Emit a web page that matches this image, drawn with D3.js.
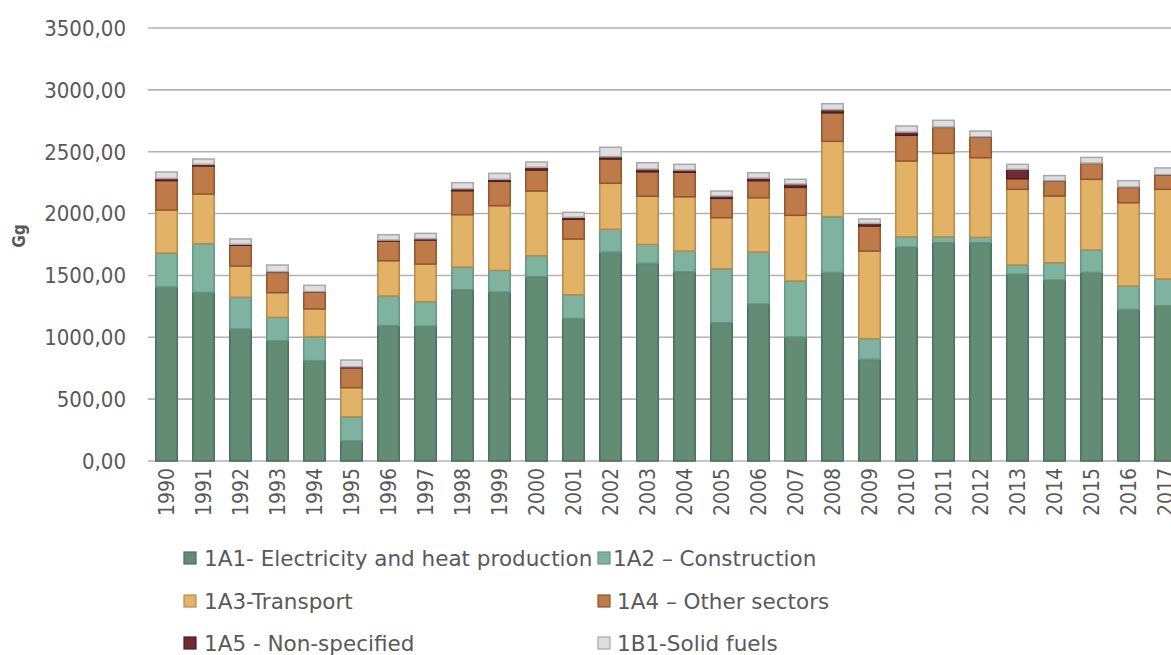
<!DOCTYPE html>
<html><head><meta charset="utf-8">
<script src="https://cdn.jsdelivr.net/npm/d3@7"></script>
<style>body{margin:0;background:#fff;} svg{display:block;font-family:"DejaVu Sans Condensed","DejaVu Sans",sans-serif;}</style>
</head><body>
<svg id="c" width="1171" height="655"></svg>
<script>
const years = ["1990","1991","1992","1993","1994","1995","1996","1997","1998","1999","2000","2001","2002","2003","2004","2005","2006","2007","2008","2009","2010","2011","2012","2013","2014","2015","2016","2017"];
const s1A1 = [1406,1363,1067,972,811,162,1094,1091,1385,1366,1490,1153,1689,1598,1530,1118,1269,1002,1525,822,1730,1765,1765,1511,1463,1525,1226,1255];
const s1A2 = [275,394,256,189,194,196,240,197,183,175,169,191,184,153,167,436,420,453,450,167,83,48,43,73,140,181,189,216];
const s1A3 = [348,401,253,200,224,235,285,304,423,523,523,450,372,389,439,413,439,531,609,708,612,674,644,612,539,571,673,725];
const s1A4 = [238,227,168,164,135,161,159,194,194,197,170,160,196,198,198,156,138,226,231,203,208,210,167,86,121,129,124,116];
const s1A5 = [17,13,8,5,5,8,8,11,16,16,22,16,19,22,18,19,21,27,25,21,26,3,2,76,3,2,3,3];
const s1B1 = [52,43,43,54,51,54,43,43,49,48,43,40,76,51,46,40,43,38,48,35,49,54,46,40,41,46,51,54];
const yTicks = [0,500,1000,1500,2000,2500,3000,3500];
const seriesNames = ["1A1- Electricity and heat production","1A2 – Construction","1A3-Transport","1A4 – Other sectors","1A5 - Non-specified","1B1-Solid fuels"];
const fills = ["#638c74","#7fb3a0","#e2b366","#bf7a4a","#6e2c35","#dedede"];
const strokes = ["#4b6e59","#5f9884","#b68c4c","#91552f","#4e1c24","#a8a8a8"];

const seriesVals = [s1A1,s1A2,s1A3,s1A4,s1A5,s1B1];
const rows = years.map((yr,i)=>{const o={year:yr}; seriesNames.forEach((n,k)=>o[n]=seriesVals[k][i]); return o;});
const stack = d3.stack().keys(seriesNames)(rows);

const svg = d3.select("#c");
const plotLeft = 148, plotBottom = 461, plotTop = 28;
const x = d3.scaleBand().domain(years).range([plotLeft, plotLeft+37*years.length]).paddingInner(0.38).paddingOuter(0.19);
const y = d3.scaleLinear().domain([0,3500]).range([plotBottom, plotTop]);

// gridlines
svg.append("g").selectAll("line").data(yTicks).join("line")
  .attr("x1",plotLeft).attr("x2",1171).attr("y1",d=>y(d)).attr("y2",d=>y(d))
  .attr("stroke","#b3b3b3").attr("stroke-width",1.6);

// y tick labels
const fmt = d => d3.format(".2f")(d).replace(".",",");
svg.append("g").selectAll("text").data(yTicks).join("text")
  .attr("x",126).attr("y",d=>y(d)).attr("dy","0.36em").attr("text-anchor","end")
  .attr("font-size",22).attr("fill","#595959").text(fmt);

svg.append("text").attr("transform","translate(25,236) rotate(-90)").attr("text-anchor","middle")
  .attr("font-size",17).attr("font-weight","bold").attr("fill","#595959").text("Gg");

// bars
svg.append("g").selectAll("g").data(stack).join("g")
  .attr("fill",(d,i)=>fills[i]).attr("stroke",(d,i)=>strokes[i]).attr("stroke-width",1.5)
  .selectAll("rect").data(d=>d).join("rect")
  .attr("x",d=>x(d.data.year)+0.75).attr("width",x.bandwidth()-1.5)
  .attr("y",d=>y(d[1])).attr("height",d=>Math.max(0,y(d[0])-y(d[1])));

// x labels
svg.append("g").selectAll("text").data(years).join("text")
  .attr("transform",d=>`translate(${x(d)+x.bandwidth()/2},468) rotate(-90)`)
  .attr("dy","0.36em").attr("text-anchor","end").attr("font-size",21).attr("fill","#595959").text(d=>d);

// legend
const legPos = [[184,558],[598,558],[184,601],[598,601],[184,643],[598,643]];
const lg = svg.append("g").selectAll("g").data(seriesNames).join("g")
  .attr("transform",(d,i)=>`translate(${legPos[i][0]},${legPos[i][1]})`);
lg.append("rect").attr("x",0).attr("y",-6).attr("width",12).attr("height",12)
  .attr("fill",(d,i)=>fills[i]).attr("stroke",(d,i)=>strokes[i]).attr("stroke-width",1.2);
lg.append("text").attr("x",(d,i)=>i===1?15:(i%2===0?20:19)).attr("y",0).attr("dy","0.36em")
  .attr("font-family","DejaVu Sans").attr("font-size",21.5).attr("fill","#595959").text(d=>d);
</script>
</body></html>
